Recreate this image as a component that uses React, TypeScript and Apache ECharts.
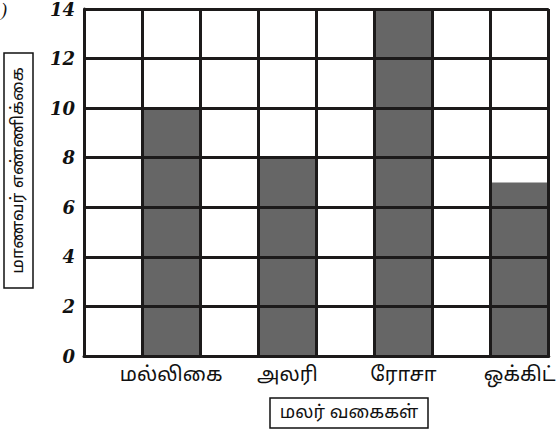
import React, { useEffect, useRef } from "react";
import * as echarts from "echarts";

const flowers = ["மல்லிகை", "அலரி", "ரோசா", "ஒக்கிட்"];
const studentCounts = [10, 8, 14, 7];
const yAxisTitle = "மாணவர் எண்ணிக்கை";
const xAxisTitle = "மலர் வகைகள்";
const yMin = 0;
const yMax = 14;
const yStep = 2;

const TAMIL_FONT = "'Noto Sans Tamil', 'Noto Serif Tamil', 'Lohit Tamil', 'Noto Sans', sans-serif";
const LINE = "#1c1a1a";

export default function App() {
  const ref = useRef<HTMLDivElement>(null);
  useEffect(() => {
    if (!ref.current) return;
    const chart = echarts.init(ref.current, undefined, { renderer: "svg" });
    const slots = flowers.flatMap((f, i) => [`_gap${i}`, f]);
    const values = flowers.flatMap((_f, i) => ["-", studentCounts[i]]);
    chart.setOption({
      animation: false,
      backgroundColor: "#ffffff",
      grid: { left: 84, right: 0, top: 5, bottom: 79, containLabel: false },
      xAxis: {
        type: "category",
        data: slots,
        boundaryGap: true,
        z: 10,
        axisLine: { show: true, lineStyle: { color: LINE, width: 3 } },
        axisTick: { show: false },
        splitLine: { show: true, interval: 0, lineStyle: { color: LINE, width: 3 } },
        axisLabel: {
          interval: 0,
          margin: 10,
          color: "#111",
          fontSize: 20,
          fontFamily: TAMIL_FONT,
          formatter: (v: string) => (v.startsWith("_gap") ? "" : v),
        },
      },
      yAxis: {
        type: "value",
        min: yMin,
        max: yMax,
        interval: yStep,
        z: 10,
        axisLine: { show: true, lineStyle: { color: LINE, width: 3 } },
        axisTick: { show: false },
        splitLine: { show: true, lineStyle: { color: LINE, width: 3 } },
        axisLabel: {
          margin: 9,
          color: "#111",
          fontSize: 18,
          fontWeight: "bold",
          fontStyle: "italic",
          fontFamily: "'DejaVu Serif', 'Liberation Serif', serif",
        },
      },
      series: [
        {
          type: "bar",
          data: values,
          barCategoryGap: "0%",
          itemStyle: { color: "#666666" },
          z: 2,
        },
      ],
      graphic: [
        {
          type: "text",
          left: 1,
          top: 1,
          style: { text: ")", fontSize: 18, fontStyle: "italic", fontFamily: "'Liberation Serif', serif", fill: "#111" },
        },
        {
          type: "rect",
          shape: { x: 4, y: 53, width: 29, height: 235 },
          style: { fill: "#fff", stroke: "#111", lineWidth: 1.5 },
        },
        {
          type: "text",
          x: 18.5,
          y: 170.5,
          rotation: Math.PI / 2,
          style: {
            text: yAxisTitle,
            fontSize: 17,
            fontFamily: TAMIL_FONT,
            fill: "#111",
            align: "center",
            verticalAlign: "middle",
          },
        },
        {
          type: "rect",
          shape: { x: 270, y: 398, width: 158, height: 30 },
          style: { fill: "#fff", stroke: "#111", lineWidth: 1.5 },
        },
        {
          type: "text",
          x: 349,
          y: 413,
          style: {
            text: xAxisTitle,
            fontSize: 18,
            fontFamily: TAMIL_FONT,
            fill: "#111",
            align: "center",
            verticalAlign: "middle",
          },
        },
      ],
    });
    return () => chart.dispose();
  }, []);
  return (
    <div
      ref={ref}
      style={{ position: "fixed", left: 0, top: 0, width: 558, height: 435, background: "#fff" }}
    />
  );
}
